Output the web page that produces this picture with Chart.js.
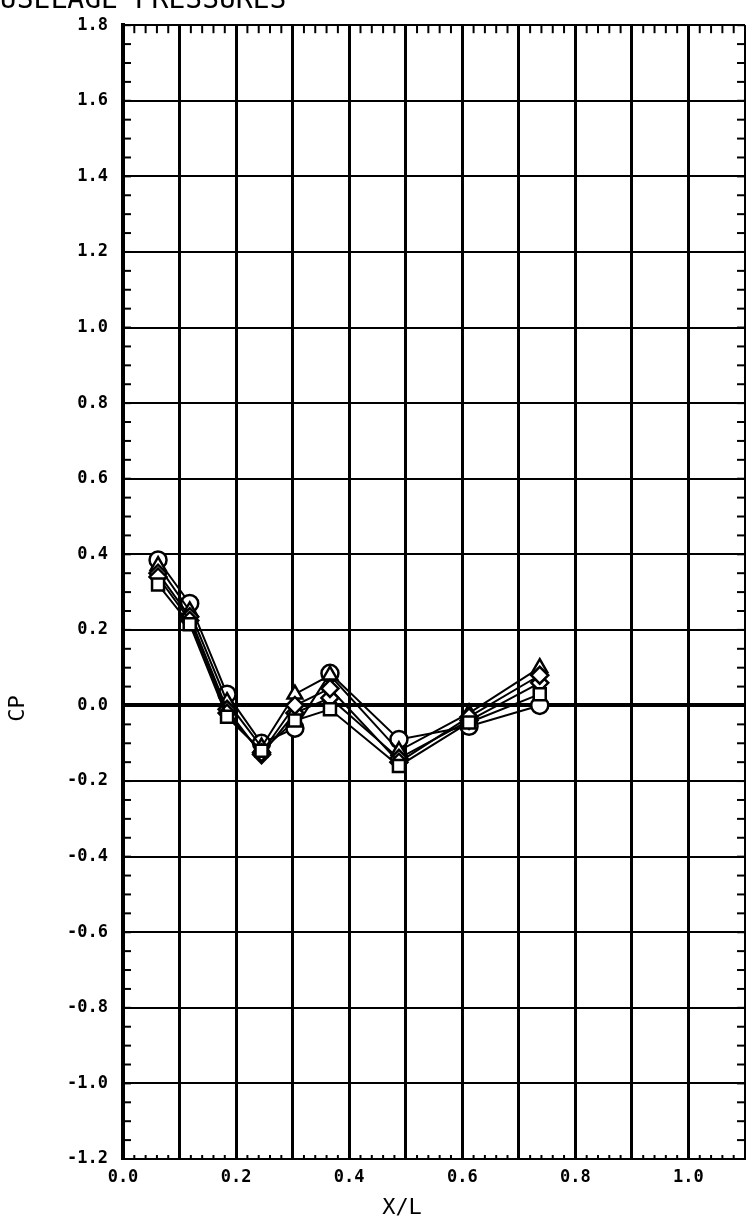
<!DOCTYPE html>
<html>
<head>
<meta charset="utf-8">
<script src="https://cdn.jsdelivr.net/npm/chart.js@4.4.1/dist/chart.umd.min.js"></script>
<style>
  html, body { margin: 0; padding: 0; background: #fff; overflow: hidden; }
  canvas { display: block; }
</style>
</head>
<body>
<canvas id="cpChart" width="746" height="1216"></canvas>
<script>
// fuselage stations (X/L) and pressure coefficients per run
const stations = [0.062, 0.118, 0.184, 0.245, 0.304, 0.366, 0.488, 0.612, 0.737];
const cpCircle   = [0.385, 0.270, 0.030, -0.100, -0.060, 0.085, -0.090, -0.055, 0.000];
const cpTriangle = [0.370, 0.250, 0.010, -0.110, 0.030, 0.080, -0.120, -0.020, 0.100];
const cpDiamond  = [0.350, 0.235, -0.010, -0.130, -0.020, 0.020, -0.140, -0.040, 0.060];
const cpRect     = [0.340, 0.225, -0.020, -0.125, 0.000, 0.045, -0.150, -0.030, 0.080];
const cpSquare   = [0.320, 0.215, -0.030, -0.120, -0.040, -0.010, -0.160, -0.045, 0.030];

const xLabels = [0, 0.2, 0.4, 0.6, 0.8, 1.0];

function pts(vals) {
  return stations.map((s, i) => ({ x: s, y: vals[i] }));
}

function series(vals, style) {
  return {
    data: pts(vals),
    showLine: true,
    borderColor: '#000',
    borderWidth: 2,
    pointStyle: style,
    pointRadius: 8.5,
    pointBackgroundColor: '#fff',
    pointBorderColor: '#000',
    pointBorderWidth: 2.5
  };
}

const decorations = {
  id: 'decorations',
  afterDraw(chart) {
    const { ctx, chartArea: a, scales: { x, y } } = chart;
    ctx.save();
    ctx.strokeStyle = '#000';
    ctx.lineWidth = 2;
    // minor ticks along top and bottom
    for (let i = 0; i <= 55; i++) {
      const px = x.getPixelForValue(i * 0.02);
      ctx.beginPath(); ctx.moveTo(px, a.top); ctx.lineTo(px, a.top + 8); ctx.stroke();
      ctx.beginPath(); ctx.moveTo(px, a.bottom); ctx.lineTo(px, a.bottom - 4); ctx.stroke();
    }
    // minor ticks along left and right
    for (let i = 0; i <= 60; i++) {
      const py = y.getPixelForValue(-1.2 + i * 0.05);
      ctx.beginPath(); ctx.moveTo(a.left, py); ctx.lineTo(a.left + 8, py); ctx.stroke();
      ctx.beginPath(); ctx.moveTo(a.right, py); ctx.lineTo(a.right - 8, py); ctx.stroke();
    }
    ctx.lineWidth = 4;
    ctx.beginPath(); ctx.moveTo(a.left, a.top); ctx.lineTo(a.left, a.bottom); ctx.stroke();

    ctx.fillStyle = '#000';
    ctx.font = '28px "DejaVu Sans Mono"';
    ctx.textAlign = 'left';
    ctx.textBaseline = 'alphabetic';
    ctx.fillText('FUSELAGE PRESSURES', -17, 8);

    ctx.font = '22px "DejaVu Sans Mono"';
    ctx.textAlign = 'center';
    ctx.fillText('X/L', 402, 1214);

    ctx.translate(18, y.getPixelForValue(0) + 3);
    ctx.rotate(-Math.PI / 2);
    ctx.textBaseline = 'middle';
    ctx.fillText('CP', 0, 0);
    ctx.restore();
  }
};

const tickFont = { family: 'DejaVu Sans Mono', weight: 'bold', size: 17 };

new Chart(document.getElementById('cpChart'), {
  type: 'scatter',
  data: {
    datasets: [
      series(cpSquare, 'rect'),
      series(cpRect, 'rectRot'),
      series(cpDiamond, 'rectRot'),
      series(cpTriangle, 'triangle'),
      series(cpCircle, 'circle')
    ]
  },
  options: {
    responsive: false,
    animation: false,
    devicePixelRatio: 1,
    layout: { autoPadding: false, padding: { top: 17, right: 1, left: 0, bottom: 0 } },
    plugins: { legend: { display: false }, tooltip: { enabled: false } },
    scales: {
      x: {
        type: 'linear',
        min: 0,
        max: 1.1,
        afterFit(scale) {
          scale.height = 57;
          scale.paddingLeft = 0;
          scale.paddingRight = 0;
        },
        border: { display: true, color: '#000', width: 2 },
        grid: { color: '#000', lineWidth: 3, drawTicks: false },
        ticks: {
          stepSize: 0.1,
          padding: 8,
          color: '#000',
          font: tickFont,
          maxRotation: 0,
          autoSkip: false,
          callback(v) {
            const hit = xLabels.find(t => Math.abs(t - v) < 1e-6);
            return hit === undefined ? '' : hit.toFixed(1);
          }
        }
      },
      y: {
        type: 'linear',
        min: -1.2,
        max: 1.8,
        afterFit(scale) { scale.width = 123; },
        border: { display: true, color: '#000', width: 4 },
        grid: {
          color: '#000',
          drawTicks: false,
          lineWidth: c => (Math.abs(c.tick.value) < 1e-9 ? 4 : 2)
        },
        ticks: {
          stepSize: 0.2,
          padding: 15,
          color: '#000',
          font: tickFont,
          autoSkip: false,
          callback: v => v.toFixed(1)
        }
      }
    }
  },
  plugins: [decorations]
});
</script>
</body>
</html>
